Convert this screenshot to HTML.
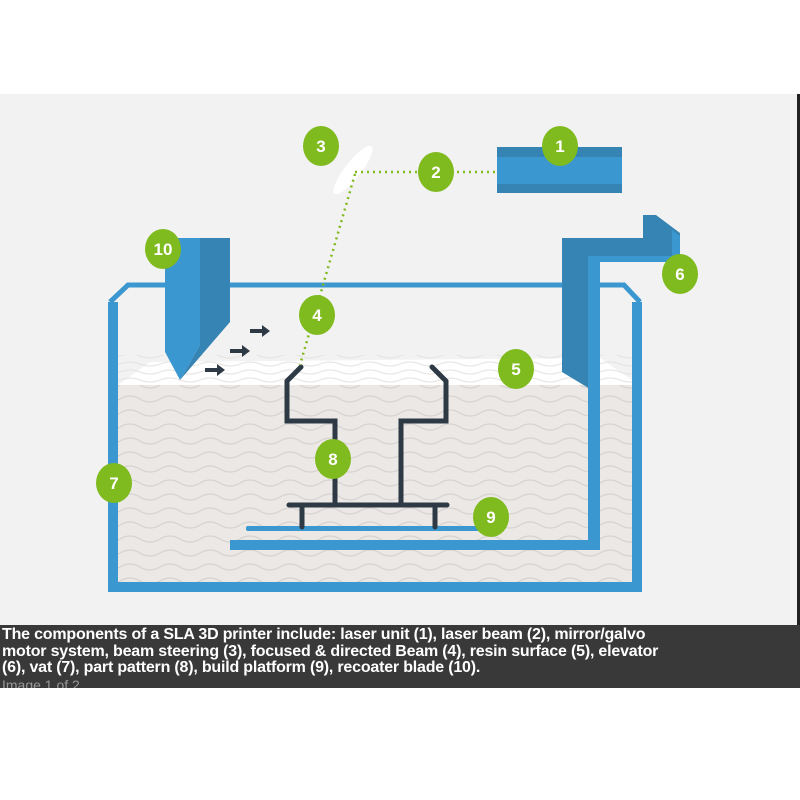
<!DOCTYPE html>
<html><head><meta charset="utf-8"><style>
html,body{margin:0;padding:0;background:#fff;width:800px;height:800px;overflow:hidden}
.cap{position:absolute;left:0;top:625px;width:800px;height:63px;background:#393939;overflow:hidden}
.cap p{margin:0;position:absolute;left:2px;top:2px;color:#fff;font:bold 16px/16.5px "Liberation Sans Narrow","Liberation Sans",sans-serif;white-space:nowrap;letter-spacing:-0.2px}
.cap span{position:absolute;left:2px;top:52px;color:#999;font:14px "Liberation Sans Narrow","Liberation Sans",sans-serif}
</style></head><body>
<svg width="800" height="800" style="position:absolute;left:0;top:0">
<defs>
<pattern id="w" width="40" height="14" patternUnits="userSpaceOnUse">
<path d="M0 7 Q10 1 20 7 T40 7" fill="none" stroke="#d6d2cf" stroke-width="1.2"/>
</pattern>
<pattern id="w2" width="40" height="8" patternUnits="userSpaceOnUse">
<path d="M0 4 Q10 0 20 4 T40 4" fill="none" stroke="#e4e2e0" stroke-width="1"/>
</pattern>
</defs>
<rect x="0" y="94" width="797" height="531" fill="#f3f2f2"/>
<rect x="797" y="94" width="3" height="531" fill="#222"/>
<polygon points="118,385 150,362 600,358 632,380 632,385" fill="#fff"/>
<rect x="118" y="355" width="514" height="30" fill="url(#w2)"/>
<rect x="118" y="385" width="514" height="197" fill="#ebe8e6"/>
<rect x="118" y="385" width="514" height="197" fill="url(#w)"/>
<path d="M113 302 V587 H637 V302" fill="none" stroke="#3b97cf" stroke-width="10"/>
<path d="M110 302 L128 285 H624 L640 302" fill="none" stroke="#3b97cf" stroke-width="5" stroke-linejoin="miter"/>
<polygon points="562,238 643,238 643,215 656,215 680,233 680,256 600,256 600,395 562,372" fill="#3584b3"/>
<polygon points="588,256 680,256 680,262 600,262 600,545 588,545" fill="#3b97cf"/>
<polygon points="672,230 680,236 680,262 672,262" fill="#3b97cf"/>
<rect x="230" y="540" width="370" height="10" fill="#3b97cf"/>
<rect x="246" y="526" width="240" height="5" rx="2" fill="#3b97cf"/>
<g fill="none" stroke="#2d3a45" stroke-width="5" stroke-linejoin="miter" stroke-linecap="round">
<path d="M301 367 L287 381 V421 H335 V505"/>
<path d="M432 367 L446 381 V421 H401 V505"/>
<path d="M289 505 H447"/>
<path d="M302 505 V527 M435 505 V527"/>
</g>
<polygon points="165,238 200,238 200,345 180,380 165,352" fill="#3b97cf"/>
<polygon points="200,238 230,238 230,322 180,380 200,345" fill="#3584b3"/>
<g fill="#2d3a45">
<path d="M250 329h12v-4l8 6-8 6v-4h-12z"/>
<path d="M230 349h12v-4l8 6-8 6v-4h-12z"/>
<path d="M205 368h12v-4l8 6-8 6v-4h-12z"/>
</g>
<rect x="497" y="147" width="125" height="46" fill="#3b97cf"/>
<rect x="497" y="147" width="125" height="10" fill="#3584b3"/>
<rect x="497" y="184" width="125" height="9" fill="#3584b3"/>
<ellipse cx="353" cy="170" rx="30" ry="8" transform="rotate(-52 353 170)" fill="#fff"/>
<g stroke="#7fba1e" stroke-width="2.5" stroke-dasharray="2 4" fill="none">
<path d="M355 172 H497"/>
<path d="M355 174 L300 365"/>
</g>
<g fill="#7fba1e">
<ellipse cx="560" cy="146" rx="18" ry="20"/>
<ellipse cx="436" cy="172" rx="18" ry="20"/>
<ellipse cx="321" cy="146" rx="18" ry="20"/>
<ellipse cx="317" cy="315" rx="18" ry="20"/>
<ellipse cx="516" cy="369" rx="18" ry="20"/>
<ellipse cx="680" cy="274" rx="18" ry="20"/>
<ellipse cx="114" cy="483" rx="18" ry="20"/>
<ellipse cx="333" cy="459" rx="18" ry="20"/>
<ellipse cx="491" cy="517" rx="18" ry="20"/>
<ellipse cx="163" cy="249" rx="18" ry="20"/>
</g>
<g fill="#fff" font-family="Liberation Sans Narrow,Liberation Sans,sans-serif" font-weight="bold" font-size="17" text-anchor="middle">
<text x="560" y="152">1</text><text x="436" y="178">2</text><text x="321" y="152">3</text>
<text x="317" y="321">4</text><text x="516" y="375">5</text><text x="680" y="280">6</text>
<text x="114" y="489">7</text><text x="333" y="465">8</text><text x="491" y="523">9</text>
<text x="163" y="255">10</text>
</g>
</svg>
<div class="cap"><p>The components of a SLA 3D printer include: laser unit (1), laser beam (2), mirror/galvo<br>motor system, beam steering (3), focused &amp; directed Beam (4), resin surface (5), elevator<br>(6), vat (7), part pattern (8), build platform (9), recoater blade (10).</p><span>Image 1 of 2</span></div>
</body></html>
